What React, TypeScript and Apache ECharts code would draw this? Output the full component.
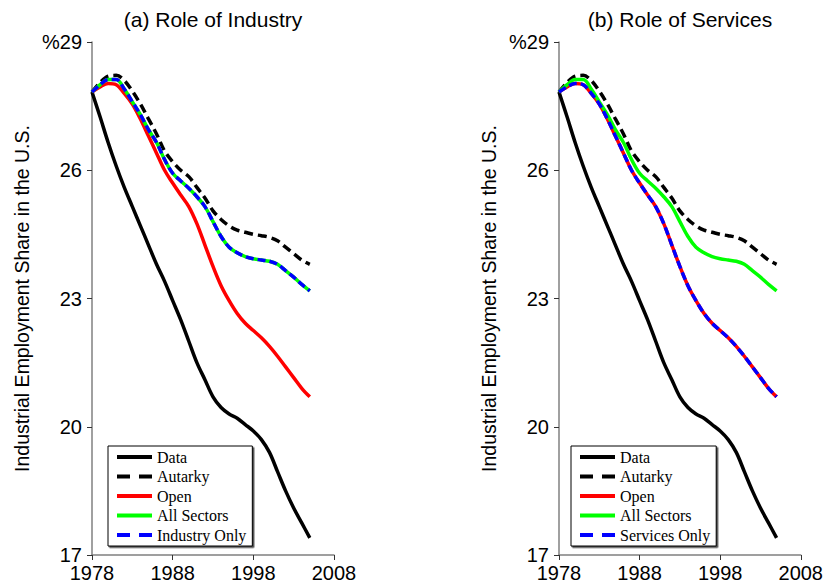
import React, { useEffect, useRef } from "react";
import * as echarts from "echarts";

const years = [
  1978, 1979, 1980, 1981, 1982, 1983, 1984, 1985, 1986, 1987, 1988, 1989, 1990, 1991,
  1992, 1993, 1994, 1995, 1996, 1997, 1998, 1999, 2000, 2001, 2002, 2003, 2004, 2005,
];

const dataSeries = [
  27.83, 27.25, 26.65, 26.1, 25.6, 25.15, 24.7, 24.25, 23.8, 23.4, 22.95, 22.5, 22.0, 21.5,
  21.1, 20.7, 20.45, 20.3, 20.2, 20.05, 19.9, 19.7, 19.4, 18.95, 18.5, 18.1, 17.75, 17.4,
];

const autarky = [
  27.83, 28.05, 28.2, 28.22, 28.1, 27.85, 27.55, 27.2, 26.85, 26.45, 26.2, 26.0, 25.85, 25.6,
  25.35, 25.05, 24.85, 24.7, 24.6, 24.55, 24.5, 24.47, 24.43, 24.35, 24.2, 24.05, 23.9, 23.8,
];

const openEconomy = [
  27.83, 27.95, 28.03, 28.0, 27.8, 27.55, 27.2, 26.8, 26.4, 26.0, 25.7, 25.42, 25.15, 24.75,
  24.25, 23.75, 23.3, 22.95, 22.65, 22.42, 22.25, 22.08, 21.88, 21.65, 21.4, 21.15, 20.9, 20.7,
];

const allSectors = [
  27.83, 28.0, 28.12, 28.12, 27.9, 27.6, 27.3, 26.95, 26.65, 26.25, 25.93, 25.75, 25.58, 25.38,
  25.15, 24.8, 24.45, 24.2, 24.07, 23.98, 23.93, 23.9, 23.87, 23.8, 23.65, 23.5, 23.33, 23.18,
];

// Single-sector counterfactuals
const industryOnly = allSectors;
const servicesOnly = openEconomy;

const xTicks = { min: 1978, max: 2008, interval: 10 };
const yTicks = { min: 17, max: 29, interval: 3 };

const titles = ["(a) Role of Industry", "(b) Role of Services"];
const yAxisName = "Industrial Employment Share in the U.S.";
const legendNamesA = ["Data", "Autarky", "Open", "All Sectors", "Industry Only"];
const legendNamesB = ["Data", "Autarky", "Open", "All Sectors", "Services Only"];
const dashedNames = ["Autarky", "Industry Only", "Services Only"];

const pair = (vals: number[]) => years.map((y, i) => [y, vals[i]]);

const SANS = "Liberation Sans, Arial, sans-serif";
const SERIF = "Liberation Serif, Times New Roman, serif";

export default function App() {
  const ref = useRef<HTMLDivElement>(null);

  useEffect(() => {
    if (!ref.current) return;
    const chart = echarts.init(ref.current, undefined, { renderer: "svg" });

    const grids = [
      { left: 92, top: 42, width: 242, height: 513 },
      { left: 559, top: 42, width: 243, height: 513 },
    ];

    const mkX = (gi: number) => ({
      type: "value",
      gridIndex: gi,
      min: xTicks.min,
      max: xTicks.max,
      interval: xTicks.interval,
      splitLine: { show: false },
      axisLine: { show: true, lineStyle: { color: "#808080", width: 1.5 } },
      axisTick: { show: true, length: 5, lineStyle: { color: "#333", width: 1 } },
      axisLabel: {
        fontSize: 20,
        color: "#000",
        fontFamily: SANS,
        margin: 8,
        formatter: (v: number) => String(v),
      },
    });

    const mkY = (gi: number) => ({
      type: "value",
      gridIndex: gi,
      min: yTicks.min,
      max: yTicks.max,
      interval: yTicks.interval,
      splitLine: { show: false },
      axisLine: { show: true, lineStyle: { color: "#808080", width: 1.5 } },
      axisTick: { show: true, length: 5, lineStyle: { color: "#333", width: 1 } },
      axisLabel: {
        fontSize: 20,
        color: "#000",
        fontFamily: SANS,
        margin: 10,
        formatter: (v: number) => (v === yTicks.max ? "%" + v : String(v)),
      },
      name: yAxisName,
      nameLocation: "middle",
      nameRotate: 90,
      nameGap: 60,
      nameTextStyle: { fontSize: 19.5, color: "#000", fontFamily: SANS },
    });

    const line = (
      name: string,
      vals: number[],
      gi: number,
      color: string,
      dashed?: number[]
    ) => ({
      type: "line",
      name,
      xAxisIndex: gi,
      yAxisIndex: gi,
      data: pair(vals),
      showSymbol: false,
      symbol: "none",
      smooth: 0.35,
      lineStyle: { color, width: 3.5, type: dashed ? dashed : "solid" },
      itemStyle: { color },
      emphasis: { disabled: true },
    });

    const series = [
      line("Data", dataSeries, 0, "#000000"),
      line("Autarky", autarky, 0, "#000000", [9, 5]),
      line("Open", openEconomy, 0, "#ff0000"),
      line("All Sectors", allSectors, 0, "#00ff00"),
      line("Industry Only", industryOnly, 0, "#0000ff", [8, 4]),
      line("Data", dataSeries, 1, "#000000"),
      line("Autarky", autarky, 1, "#000000", [9, 5]),
      line("Open", openEconomy, 1, "#ff0000"),
      line("All Sectors", allSectors, 1, "#00ff00"),
      line("Services Only", servicesOnly, 1, "#0000ff", [8, 4]),
    ];

    const mkLegend = (names: string[], left: number) => ({
      data: names.map((n) =>
        dashedNames.includes(n)
          ? { name: n, lineStyle: { type: [13, 9], width: 4 } }
          : { name: n, lineStyle: { type: "solid", width: 4 } }
      ),
      orient: "vertical",
      left,
      top: 446,
      itemWidth: 35,
      itemHeight: 14,
      itemGap: 3.5,
      padding: [3, 6, 3, 7],
      borderColor: "#000",
      borderWidth: 1,
      backgroundColor: "#fff",
      shadowColor: "rgba(0,0,0,0.7)",
      shadowBlur: 1,
      shadowOffsetX: 1.5,
      shadowOffsetY: 1.5,
      selectedMode: false,
      itemStyle: { color: "rgba(0,0,0,0)", borderWidth: 0, opacity: 0 },
      lineStyle: { width: 4, type: [13, 9] },
      textStyle: { fontSize: 16, color: "#000", fontFamily: SERIF, padding: [0, 0, 0, 0] },
    });

    chart.setOption({
      animation: false,
      backgroundColor: "#fff",
      title: [
        {
          text: titles[0],
          left: 213,
          top: 9,
          padding: 0,
          textAlign: "center",
          textStyle: { fontSize: 21, fontWeight: "normal", color: "#000", fontFamily: SANS },
        },
        {
          text: titles[1],
          left: 680,
          top: 9,
          padding: 0,
          textAlign: "center",
          textStyle: { fontSize: 21, fontWeight: "normal", color: "#000", fontFamily: SANS },
        },
      ],
      grid: grids,
      xAxis: [mkX(0), mkX(1)],
      yAxis: [mkY(0), mkY(1)],
      legend: [mkLegend(legendNamesA, 108), mkLegend(legendNamesB, 571)],
      series,
    });

    return () => chart.dispose();
  }, []);

  return (
    <div
      ref={ref}
      style={{ position: "fixed", left: 0, top: 0, width: 826, height: 588, background: "#fff" }}
    />
  );
}
